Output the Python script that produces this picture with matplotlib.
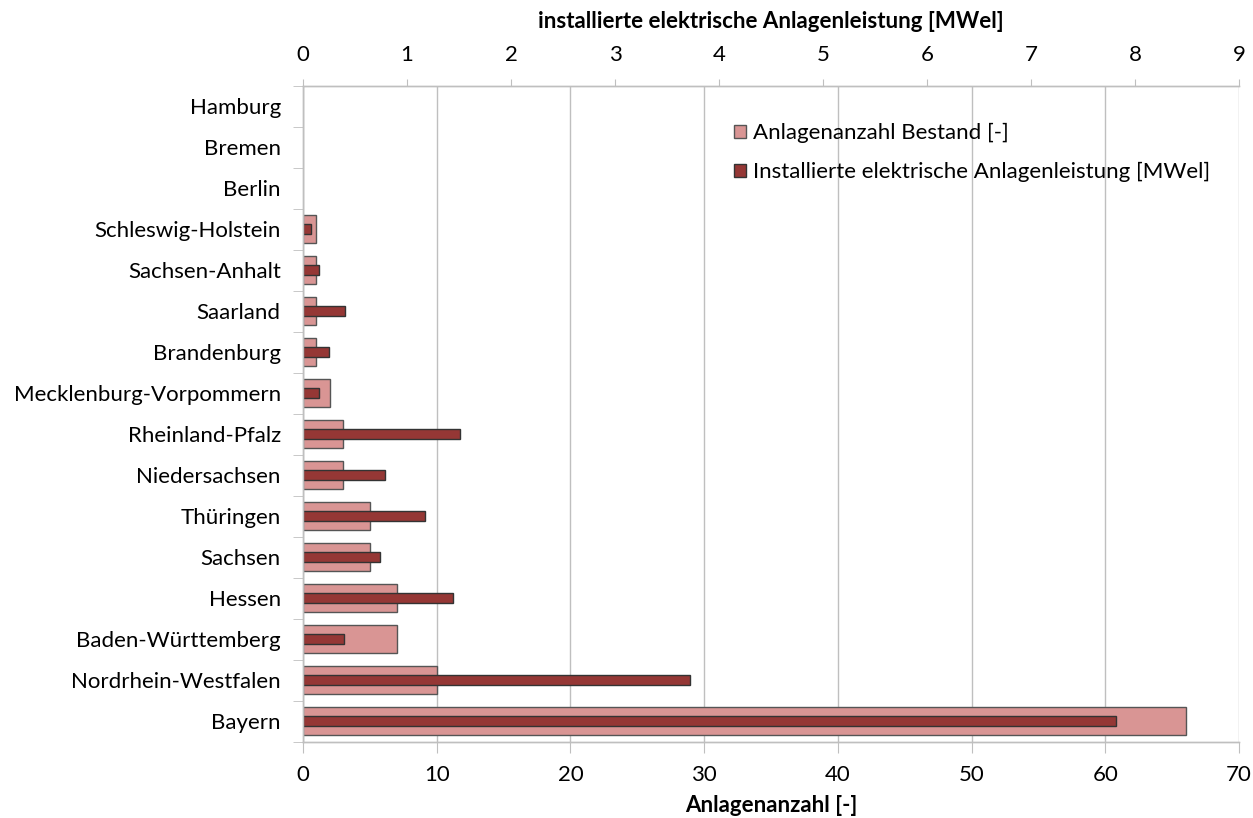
import numpy as np
import matplotlib.pyplot as plt
from matplotlib.patches import Patch

plt.rcParams['font.family'] = ['Lato', 'DejaVu Sans']

# Bundeslaender, von oben nach unten
laender = ["Hamburg", "Bremen", "Berlin", "Schleswig-Holstein", "Sachsen-Anhalt",
           "Saarland", "Brandenburg", "Mecklenburg-Vorpommern", "Rheinland-Pfalz",
           "Niedersachsen", "Thüringen", "Sachsen", "Hessen", "Baden-Württemberg",
           "Nordrhein-Westfalen", "Bayern"]
anzahl = [0, 0, 0, 1, 1, 1, 1, 2, 3, 3, 5, 5, 7, 7, 10, 66]
leistung = [0, 0, 0, 0.08, 0.15, 0.40, 0.25, 0.15, 1.51, 0.79, 1.17, 0.74, 1.44, 0.39, 3.72, 7.82]

pink = "#D99594"
dunkel = "#953735"
grau = "#BFBFBF"
fs = 16

fig = plt.figure(figsize=(12.53, 8.18), dpi=100)
ax = fig.add_axes([303 / 1253, 76.5 / 818, 936 / 1253, 655.5 / 818])
ax2 = ax.twiny()

y = np.arange(len(laender))
b1 = ax.barh(y, anzahl, height=0.68, color=pink, edgecolor="#555555", linewidth=1.0)
b2 = ax2.barh(y, leistung, height=0.24, color=dunkel, edgecolor="#333333", linewidth=1.0)

# leere Balken (Wert 0) nicht zeichnen
for bars in (b1, b2):
    for p in bars.patches:
        if p.get_width() == 0:
            p.set_visible(False)

ax.set_xlim(0, 70)
ax2.set_xlim(0, 9)
ax.set_ylim(len(laender) - 0.5, -0.5)
ax2.set_ylim(len(laender) - 0.5, -0.5)

ax.set_xticks(np.arange(0, 71, 10))
ax2.set_xticks(np.arange(0, 10, 1))
ax.set_yticks(y)
ax.set_yticks(np.arange(-0.5, len(laender), 1), minor=True)
ax.set_yticklabels(laender)

ax.set_axisbelow(True)
ax.grid(axis="x", color=grau, linewidth=1.0)
ax.grid(axis="y", visible=False)

for a in (ax, ax2):
    a.spines["right"].set_visible(False)
    for s in ("left", "bottom", "top"):
        a.spines[s].set_color(grau)
        a.spines[s].set_linewidth(1.0)

ax.tick_params(axis="x", which="major", length=8, color=grau, labelsize=fs, pad=9)
ax.tick_params(axis="y", which="major", length=0, labelsize=fs, pad=16)
ax.tick_params(axis="y", which="minor", length=7, color=grau)
ax2.tick_params(axis="x", which="major", length=5, color=grau, labelsize=fs, pad=10)

ax.set_xlabel("Anlagenanzahl [-]", fontsize=fs, fontweight="bold", labelpad=7)
ax2.set_xlabel("installierte elektrische Anlagenleistung [MWel]", fontsize=fs,
               fontweight="bold", labelpad=12)

handles = [Patch(facecolor=pink, edgecolor="#555555", linewidth=1.0, label="Anlagenanzahl Bestand [-]"),
           Patch(facecolor=dunkel, edgecolor="#333333", linewidth=1.0,
                 label="Installierte elektrische Anlagenleistung [MWel]")]
leg = ax2.legend(handles=handles, loc="upper left", bbox_to_anchor=(714 / 1253, 1 - 103 / 818),
                 bbox_transform=fig.transFigure, frameon=False, fontsize=fs,
                 handlelength=0.55, handleheight=0.55, handletextpad=0.3, labelspacing=0.85)

fig.savefig("out.png", dpi=100)
